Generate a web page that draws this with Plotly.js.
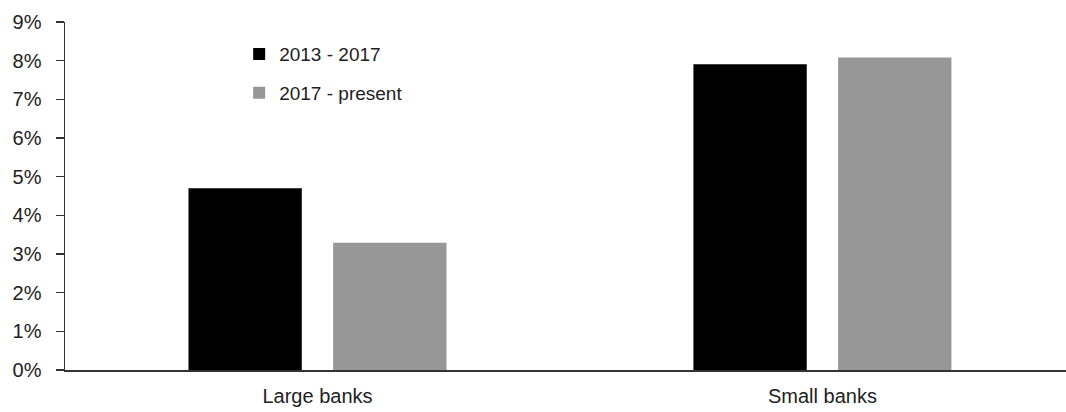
<!DOCTYPE html>
<html>
<head>
<meta charset="utf-8">
<script src="https://cdn.plot.ly/plotly-3.0.1.min.js"></script>
<style>html,body{margin:0;padding:0;background:#fff;}#chart{width:1066px;height:412px;}</style>
</head>
<body>
<div id="chart"></div>
<script>
const categories = ["Large banks", "Small banks"];
const seriesNames = ["2013 - 2017", "2017 - present"];
const values2013to2017 = [4.70, 7.91];
const values2017toPresent = [3.29, 8.08];
const yTickVals = [0, 1, 2, 3, 4, 5, 6, 7, 8, 9];
const yTickText = ["0%", "1%", "2%", "3%", "4%", "5%", "6%", "7%", "8%", "9%"];

const family = "Liberation Sans, Arial, sans-serif";
const tickFont = {family: family, size: 20, color: "#222"};
const legendFont = {family: family, size: 19, color: "#222"};

const traces = [
  {type: "bar", name: seriesNames[0], x: categories, y: values2013to2017,
   marker: {color: "#000000", line: {width: 0}}, legendgroup: "a", hoverinfo: "skip"},
  {type: "bar", name: seriesNames[1], x: categories, y: values2017toPresent,
   marker: {color: "#979797", line: {width: 0}}, legendgroup: "b", hoverinfo: "skip"}
];

const layout = {
  width: 1066, height: 412,
  margin: {l: 65, r: 0, t: 22, b: 42, pad: 0},
  paper_bgcolor: "#fff", plot_bgcolor: "#fff",
  font: tickFont,
  barmode: "group",
  bargap: 0.427,
  bargroupgap: 0.2165,
  showlegend: true,
  legend: {x: 0.174, y: 0.962, xanchor: "left", yanchor: "top", bgcolor: "rgba(0,0,0,0)",
           borderwidth: 0, font: legendFont, traceorder: "grouped", tracegroupgap: 11, itemwidth: 30},
  xaxis: {type: "category", range: [-0.5, 1.4824], showgrid: false, zeroline: false,
          showline: true, linecolor: "#333", linewidth: 1.5, ticks: "", tickfont: tickFont,
          ticklabelstandoff: 7, fixedrange: true},
  yaxis: {range: [0, 9], tickvals: yTickVals, ticktext: yTickText, showgrid: false,
          zeroline: false, showline: true, linecolor: "#333", linewidth: 1.5,
          ticks: "outside", ticklen: 8, tickwidth: 1.5, tickcolor: "#333",
          tickfont: tickFont, ticklabelstandoff: 10, fixedrange: true}
};

Plotly.newPlot("chart", traces, layout, {staticPlot: true, displayModeBar: false});
</script>
</body>
</html>
